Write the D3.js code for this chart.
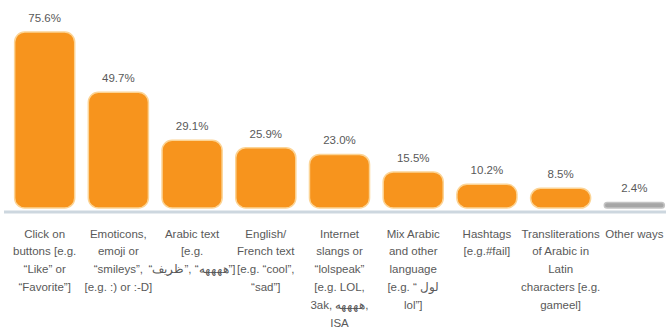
<!DOCTYPE html>
<html>
<head>
<meta charset="utf-8">
<script src="https://cdn.jsdelivr.net/npm/d3@7"></script>
<style>
  html, body { margin: 0; padding: 0; background: #fff; }
  svg { display: block; }
  text { font-family: "Liberation Sans", Arial, sans-serif; fill: #595959; }
</style>
</head>
<body>
<svg id="chart" width="666" height="329"></svg>
<script>
// Ways of expressing reactions online (share of respondents, %)
const categories = [
  ["Click on", "buttons [e.g.", "\u201CLike\u201D or", "\u201CFavorite\u201D]"],
  ["Emoticons,", "emoji or", "\u201Csmileys\u201D,", "[e.g. :) or :-D]"],
  ["Arabic text", "[e.g.", "\u201C\u200Eظريف\u200E\u201D, \u201C\u200Eههههه\u200E\u201D]"],
  ["English/", "French text", "[e.g. \u201Ccool\u201D,", "\u201Csad\u201D]"],
  ["Internet", "slangs or", "\u201Clolspeak\u201D", "[e.g. LOL,", "3ak, \u200Eههههه\u200E,", "ISA"],
  ["Mix Arabic", "and other", "language", "[e.g. \u201C \u200Eلول\u200E", "lol\u201D]"],
  ["Hashtags", "[e.g.#fail]"],
  ["Transliterations", "of Arabic in", "Latin", "characters [e.g.", "gameel]"],
  ["Other ways"]
];
const values = [75.6, 49.7, 29.1, 25.9, 23.0, 15.5, 10.2, 8.5, 2.4];
const valueLabels = ["75.6%", "49.7%", "29.1%", "25.9%", "23.0%", "15.5%", "10.2%", "8.5%", "2.4%"];
const barColors = ["#f7941d", "#f7941d", "#f7941d", "#f7941d", "#f7941d", "#f7941d", "#f7941d", "#f7941d", "#a6a6a6"];

const svg = d3.select("#chart");
const baseY = 208;

const x = d3.scaleBand()
  .domain(d3.range(values.length))
  .range([8, 671])
  .paddingInner(0.185)
  .paddingOuter(0.09);

const y = d3.scaleLinear()
  .domain([0, 75.6])
  .range([baseY, 32]);

// baseline band under the bars
svg.append("rect")
  .attr("x", 4).attr("y", 210.5)
  .attr("width", 662).attr("height", 3)
  .attr("fill", "#cdd7df");

// bars with fully rounded corners
svg.append("g").selectAll("rect")
  .data(values)
  .join("rect")
  .attr("x", (d, i) => x(i))
  .attr("y", d => y(d))
  .attr("width", x.bandwidth())
  .attr("height", d => baseY - y(d))
  .attr("rx", d => Math.min(10, (baseY - y(d)) / 2))
  .attr("fill", (d, i) => barColors[i])
  .attr("stroke", (d, i) => i === values.length - 1 ? "#c4c4c4" : "#fcd495")
  .attr("stroke-width", 1.5);

// value labels above bars
svg.append("g").selectAll("text")
  .data(values)
  .join("text")
  .attr("x", (d, i) => x(i) + x.bandwidth() / 2)
  .attr("y", d => y(d) - 10)
  .attr("text-anchor", "middle")
  .attr("font-size", "11.5px")
  .text((d, i) => valueLabels[i]);

// multi-line category labels
const lab = svg.append("g").selectAll("text")
  .data(categories)
  .join("text")
  .attr("text-anchor", "middle")
  .attr("font-size", "11.5px")
  .attr("direction", "ltr");

lab.each(function(lines, i) {
  const cx = x(i) + x.bandwidth() / 2;
  d3.select(this).selectAll("tspan")
    .data(lines)
    .join("tspan")
    .attr("x", cx)
    .attr("y", (d, j) => 237.5 + j * 17.8)
    .text(d => d);
});
</script>
</body>
</html>
